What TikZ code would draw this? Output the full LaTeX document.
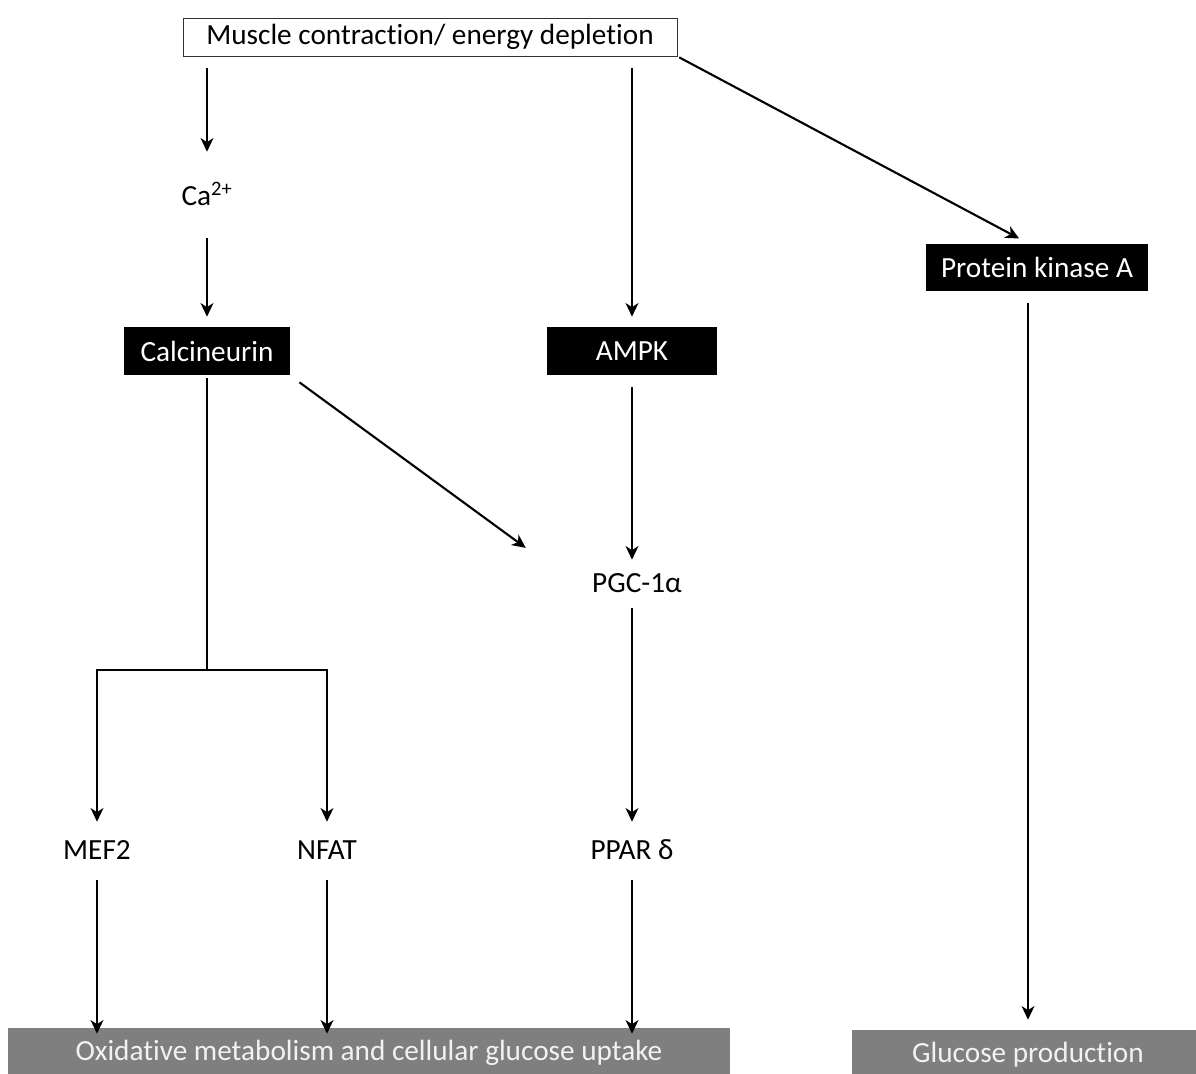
\documentclass[tikz,border=0pt]{standalone}
\usepackage{fontspec}
\setmainfont{Carlito}[Ligatures={NoCommon,NoRequired,NoContextual},Contextuals=NoAlternate]
\usetikzlibrary{arrows.meta}
\definecolor{outgrey}{HTML}{7F7F7F}
\definecolor{outtext}{HTML}{F2F2F2}

\begin{document}
\begin{tikzpicture}[x=0.025cm,y=-0.025cm,
   >={Stealth[length=0.34cm,width=0.32cm,inset=0.1cm]},
   every node/.style={font=\fontsize{20.8}{25}\selectfont,inner sep=0pt},
   flow/.style={->,line width=1.5pt,shorten <=0.3cm,shorten >=0.25cm},
   txt/.style={minimum height=0.9cm},
   blackbox/.style={fill=black,text=white,minimum height=1.2cm},
   outbox/.style={fill=outgrey,text=outtext,minimum height=1.25cm}]

   \useasboundingbox (0,0) rectangle (1196,1073);

   \node[draw=black!80,line width=0.6pt,minimum width=12.35cm,minimum height=0.95cm]
        (muscle) at (430,37) {Muscle contract\kern0pt ion/ energy deplet\kern0pt ion};
   \node[txt,minimum height=1.6cm] (ca) at (207,194) {Ca\textsuperscript{2+}};
   \node[blackbox,minimum width=4.125cm] (calc) at (207,351) {Calcineurin};
   \node[blackbox,minimum width=4.25cm] (ampk) at (632,351) {AMPK};
   \node[blackbox,minimum width=5.525cm,minimum height=1.175cm] (pka) at (1037,267) {Protein kinase A};
   \node[txt,minimum height=0.65cm] (pgc) at (637,583) {PGC-1α};
   \node[txt] (ppar) at (632,850) {PPAR δ};
   \node[txt] (mef2) at (97,850) {MEF2};
   \node[txt] (nfat) at (327,850) {NFAT};
   \node[outbox,minimum width=18.05cm] (oxid) at (369,1053) {Oxidat\kern0pt ive metabolism and cellular glucose uptake};
   \node[outbox,minimum width=8.8cm] (gluc) at (1028,1055) {Glucose production};
   \coordinate (split) at (207,670);

   % calcineurin branch
   \draw[flow] (muscle.south -| ca) -- (ca);
   \draw[flow] (ca) -- (calc);
   \draw[line width=1.5pt,shorten <=0.08cm] (calc) -- (split);
   \draw[line width=1.5pt,line cap=rect] (split -| mef2) -- (split -| nfat);
   \draw[flow,shorten <=0pt] (split -| mef2) -- (mef2);
   \draw[flow,shorten <=0pt] (split -| nfat) -- (nfat);
   \draw[flow,shorten >=-0.15cm] (mef2) -- (mef2 |- oxid.north);
   \draw[flow,shorten >=-0.15cm] (nfat) -- (nfat |- oxid.north);
   \draw[flow,shorten >=2.05cm] (calc.south east) -- (pgc.south west);

   % AMPK branch
   \draw[flow] (muscle.south -| ampk) -- (ampk);
   \draw[flow] (ampk) -- (ampk |- pgc.north);
   \draw[flow] (ampk |- pgc.south) -- (ppar);
   \draw[flow,shorten >=-0.15cm] (ppar) -- (ppar |- oxid.north);

   % PKA branch
   \draw[flow,shorten <=0.05cm] (muscle.south east) -- (pka.north -| gluc);
   \draw[flow] (pka.south -| gluc) -- (gluc);

\end{tikzpicture}
\end{document}
